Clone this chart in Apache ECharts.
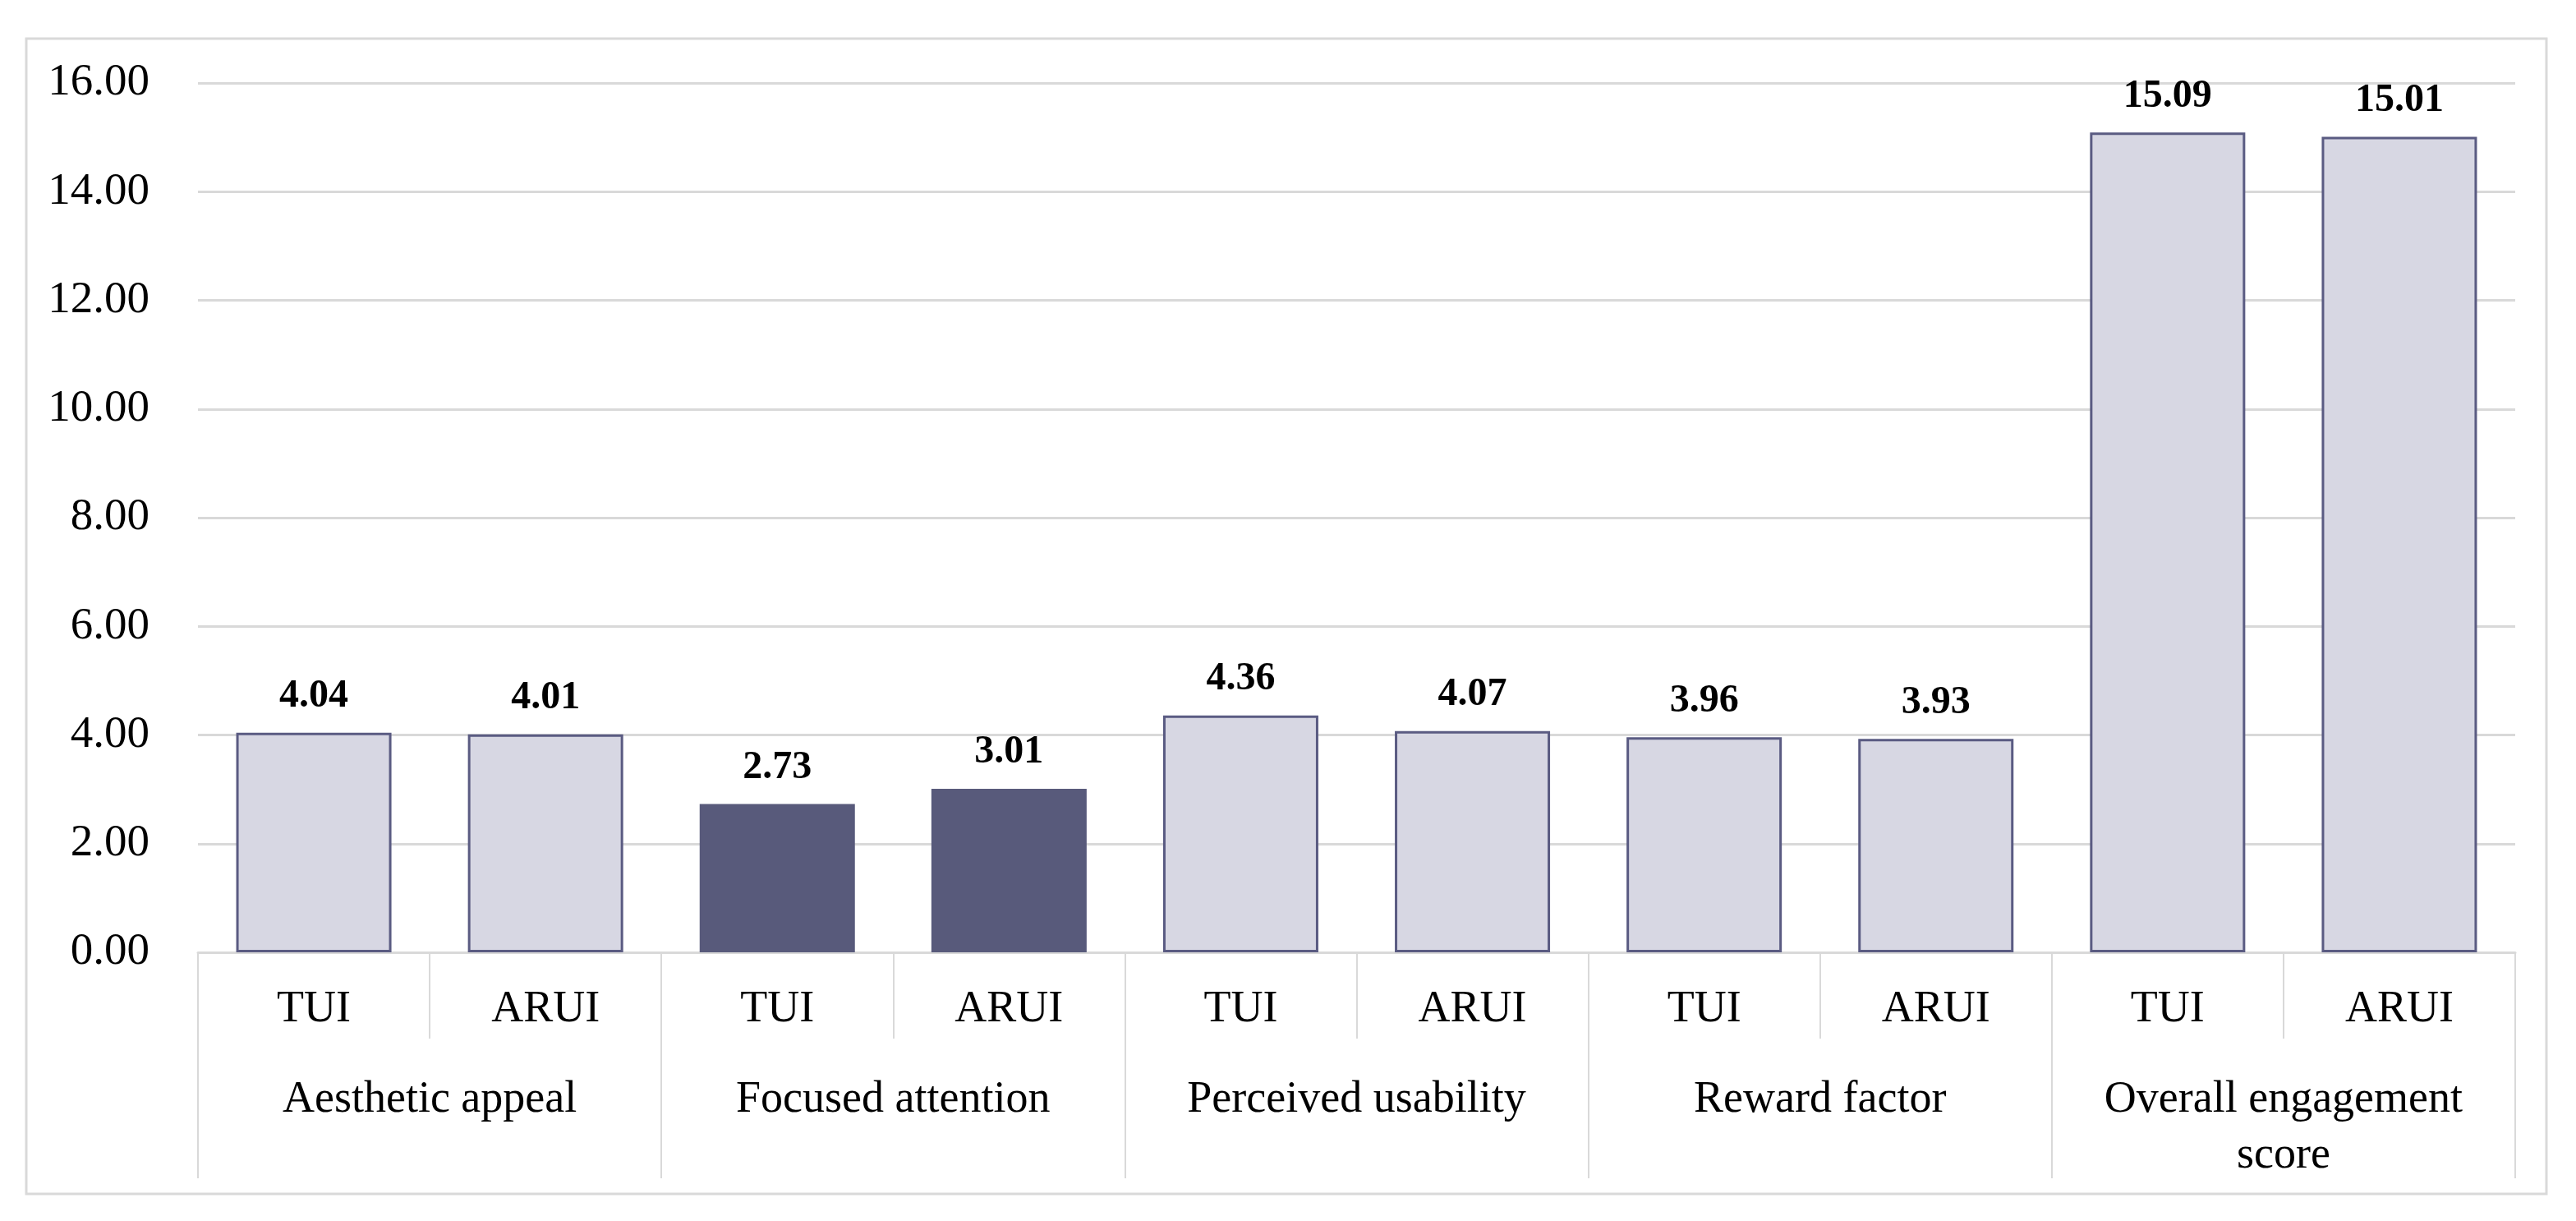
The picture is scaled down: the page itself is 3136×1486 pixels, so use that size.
<!DOCTYPE html>
<html>
<head>
<meta charset="utf-8">
<script src="https://cdn.jsdelivr.net/npm/echarts@6/dist/echarts.min.js"></script>
<style>
html,body{margin:0;padding:0;background:#fff;}
#chart{width:3136px;height:1486px;}
</style>
</head>
<body>
<div id="chart"></div>
<script>
const groups = ['Aesthetic appeal', 'Focused attention', 'Perceived usability', 'Reward factor', 'Overall engagement\nscore'];
const interfaces = ['TUI', 'ARUI'];
const values = [4.04, 4.01, 2.73, 3.01, 4.36, 4.07, 3.96, 3.93, 15.09, 15.01];
const highlightedGroup = 'Focused attention';
const yTicks = [0, 2, 4, 6, 8, 10, 12, 14, 16];

const FONT = '"Liberation Serif", "DejaVu Serif", serif';
const lightFill = '#d7d7e3';
const darkFill = '#585a7b';
const edge = '#5a5b82';
const gridColor = '#d9d9d9';

const categories = [];
const barData = [];
groups.forEach((g, gi) => {
  interfaces.forEach((s, si) => {
    categories.push(s);
    const v = values[gi * interfaces.length + si];
    const dark = g === highlightedGroup;
    barData.push({
      value: v,
      itemStyle: dark
        ? { color: darkFill, borderColor: darkFill, borderWidth: 2 }
        : { color: lightFill, borderColor: edge, borderWidth: 3 }
    });
  });
});

const chart = echarts.init(document.getElementById('chart'), null, { renderer: 'canvas' });
chart.setOption({
  backgroundColor: '#ffffff',
  animation: false,
  graphic: [{
    type: 'rect',
    shape: { x: 32, y: 47, width: 3068, height: 1406 },
    style: { fill: 'none', stroke: gridColor, lineWidth: 3 },
    z: -1
  }],
  grid: { left: 241, right: 74, top: 101, bottom: 327, containLabel: false },
  xAxis: [{
    type: 'category',
    data: categories,
    position: 'bottom',
    axisLine: { show: true, lineStyle: { color: gridColor, width: 3 } },
    axisTick: { show: true, interval: 0, length: 105, lineStyle: { color: gridColor, width: 2 } },
    axisLabel: { interval: 0, margin: 40, fontFamily: FONT, fontSize: 54, color: '#000', lineHeight: 60 }
  }, {
    type: 'category',
    data: groups,
    position: 'bottom',
    axisLine: { show: false },
    axisTick: { show: true, interval: 0, length: 275, lineStyle: { color: gridColor, width: 2 } },
    axisLabel: { interval: 0, margin: 146, fontFamily: FONT, fontSize: 54, color: '#000', lineHeight: 68, align: 'center' }
  }],
  yAxis: {
    type: 'value',
    min: 0, max: 16, interval: 2,
    axisLine: { show: false },
    axisTick: { show: false },
    splitLine: { show: true, lineStyle: { color: gridColor, width: 3 } },
    axisLabel: {
      margin: 59, fontFamily: FONT, fontSize: 55, color: '#000',
      formatter: v => yTicks.includes(v) ? v.toFixed(2) : ''
    }
  },
  series: [{
    type: 'bar',
    xAxisIndex: 0,
    data: barData,
    barCategoryGap: '33%',
    label: {
      show: true, position: 'top', distance: 20,
      fontFamily: FONT, fontWeight: 'bold', fontSize: 48, color: '#000',
      formatter: p => p.value.toFixed(2)
    }
  }]
});
</script>
</body>
</html>
